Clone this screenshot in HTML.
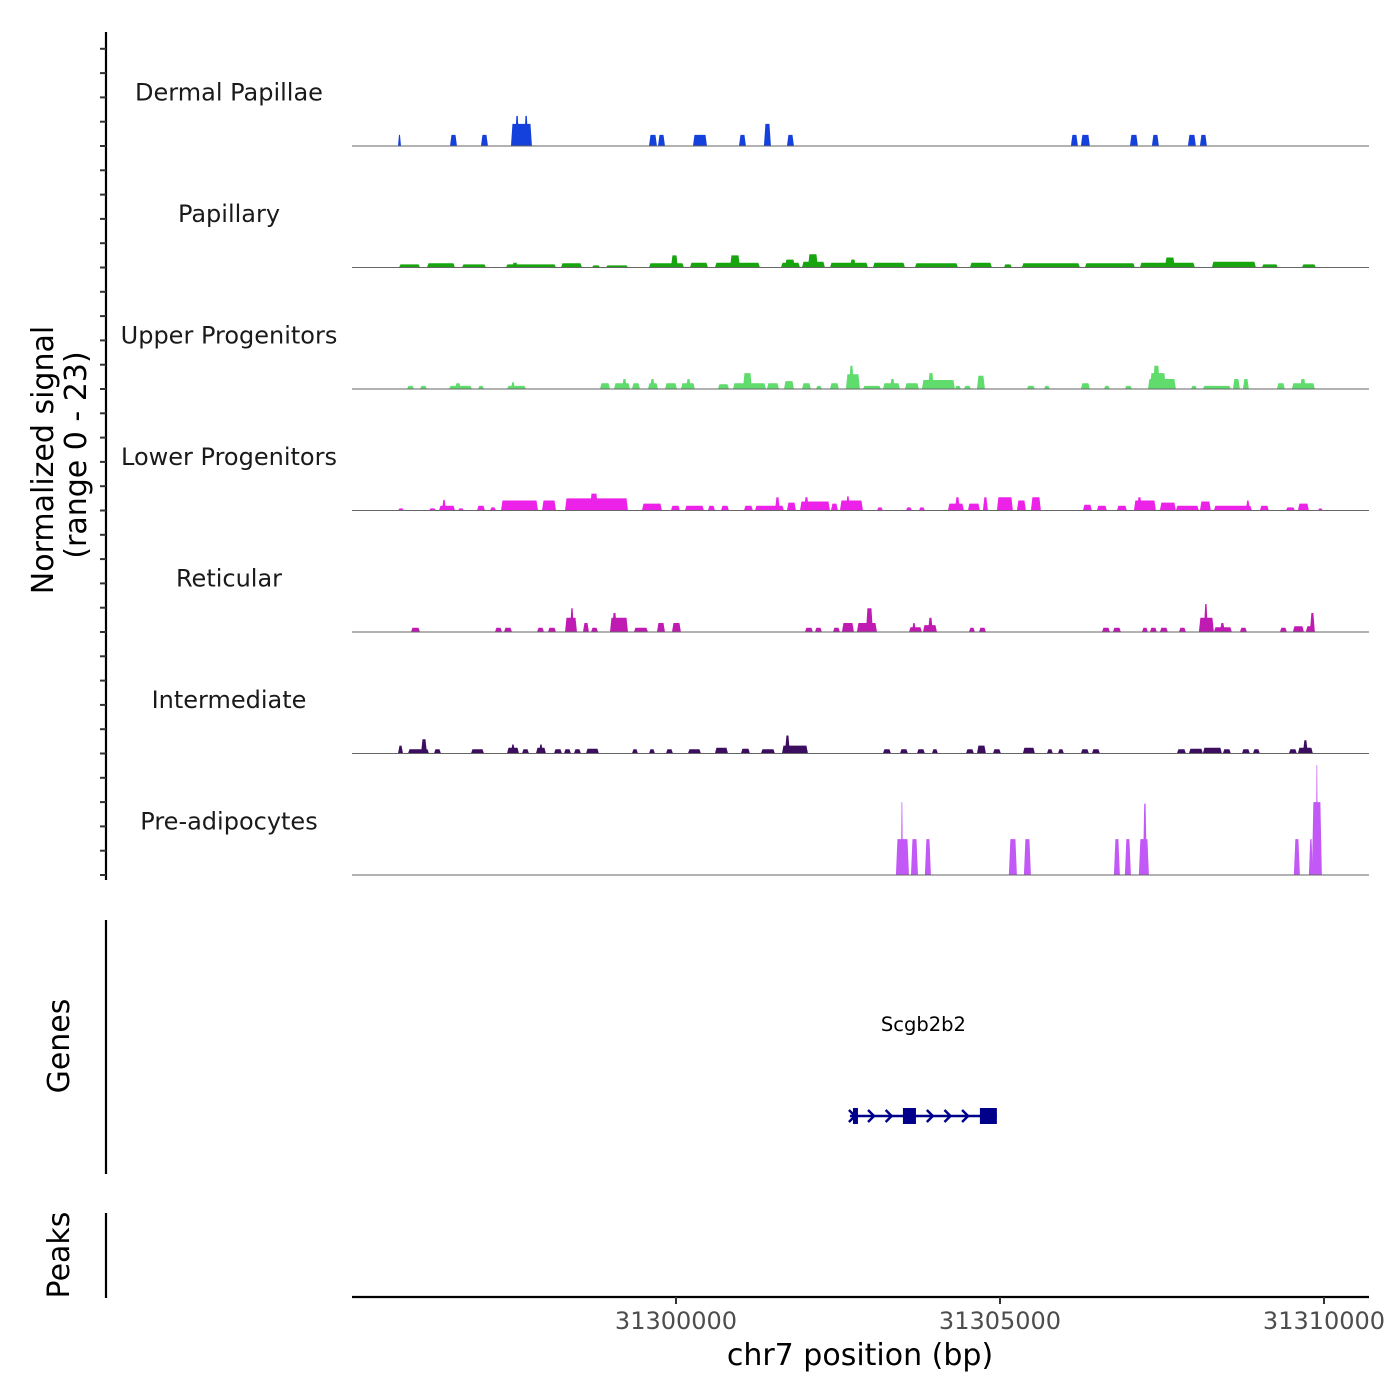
<!DOCTYPE html>
<html><head><meta charset="utf-8"><style>
html,body{margin:0;padding:0;background:#fff}
svg{display:block;font-family:"DejaVu Sans","Liberation Sans",sans-serif}
</style></head><body>
<svg id="chart" width="1400" height="1400" viewBox="0 0 1400 1400" xmlns="http://www.w3.org/2000/svg">
<g id="left"></g>
<g id="tracks"></g>
<g id="genes"></g>
<g id="xaxis"></g>
<text transform="translate(53,460) rotate(-90)" text-anchor="middle" font-size="30" fill="#000">Normalized signal</text>
<text transform="translate(86,455) rotate(-90)" text-anchor="middle" font-size="30" fill="#000">(range 0 - 23)</text>
<text transform="translate(69,1046) rotate(-90)" text-anchor="middle" font-size="30" fill="#000">Genes</text>
<text transform="translate(69,1255) rotate(-90)" text-anchor="middle" font-size="30" fill="#000">Peaks</text>
<line x1="106" y1="920" x2="106" y2="1174" stroke="#000" stroke-width="2.2"/>
<line x1="106" y1="1213" x2="106" y2="1298" stroke="#000" stroke-width="2.2"/>
<text x="860" y="1365" text-anchor="middle" font-size="30" fill="#000">chr7 position (bp)</text>
</svg>
<script>
const NS='http://www.w3.org/2000/svg';
const windowStart=31295000, windowEnd=31310700, signalMax=23;
const xTicks=[31300000,31305000,31310000];
const trackNames=['Dermal Papillae','Papillary','Upper Progenitors','Lower Progenitors','Reticular','Intermediate','Pre-adipocytes'];
const trackColors=['#1440dc','#17a40e','#5fdc6c','#ec22e8','#bf1bb2','#3d0e60','#c258f6'];
// segments: offsets (bp from windowStart), values (normalized signal)
const dpStart=[710,1512,1990,2453,2515,2655,4583,4722,5262,5972,6357,6712,11094,11248,12005,12344,12900,13085];
const dpEnd=[756,1620,2098,2777,2580,2720,4706,4830,5478,6079,6465,6820,11202,11387,12128,12452,13023,13193];
const dpVal=[2.1,2.1,2.1,4.2,5.7,5.7,2.1,2.1,2.1,2.1,4.2,2.1,2.1,2.1,2.1,2.1,2.1,2.1];
const paStart=[725,1157,1697,2376,2469,3225,3703,3919,4583,4922,5215,5601,5833,6620,6681,6944,7036,7376,7684,8039,8687,9536,10060,10338,11310,12159,12545,13270,14041,14659];
const paEnd=[1049,1589,2068,3148,2562,3549,3827,4259,5123,5030,5493,6295,5987,6913,6836,7298,7190,7962,7777,8533,9351,9875,10184,11233,12082,13008,12699,13949,14288,14875];
const paVal=[.6,.8,.6,.6,.9,.8,.4,.4,.8,2.3,.9,.9,2.3,.9,1.5,1.1,2.5,.9,1.5,.9,.8,.9,.6,.8,.8,.9,1.9,1.1,.6,.6];
const upStart=[849,1049,1497,1589,1944,2392,2453,3827,4043,4166,4320,4567,4598,4830,5076,5154,5647,5879,6033,6403,6666,6944,7160,7376,7622,7669,7885,8193,8301,8533,8795,8888,9304,9443,9644,10415,10678,11248,11603,11927,12283,12313,12360,12946,13131,13594,13748,14273,14504,14628];
const upEnd=[957,1157,1852,1682,2037,2685,2515,3981,4290,4243,4444,4722,4675,5015,5292,5231,5817,6388,6172,6589,6820,7082,7252,7514,7838,7746,8162,8456,8379,8749,9304,8980,9397,9551,9767,10539,10770,11387,11696,12036,12714,12560,12467,13039,13563,13702,13841,14396,14859,14720];
const upVal=[.6,.6,.6,1.1,.6,.6,1.3,1.1,1.1,1.9,1.1,1.1,1.9,1.1,1.1,1.9,.9,1.1,3.0,1.1,1.5,1.1,.6,1.1,2.8,4.4,.6,1.1,1.9,1.1,1.7,3.0,.6,.6,2.5,.6,.6,1.1,.6,.6,1.9,3.0,4.4,.6,.6,1.9,1.9,1.1,1.1,1.9];
const lpStart=[710,1188,1342,1389,1636,1929,2129,2299,2932,3287,3672,4475,4922,5138,5493,5694,6049,6218,6527,6712,6913,6975,7391,7530,7622,8101,8548,8749,9196,9304,9505,9736,9952,10261,10477,11280,11495,11804,12066,12113,12467,12714,13085,13301,13794,14010,14412,14597,14905];
const lpEnd=[802,1296,1589,1450,1728,2052,2222,2870,3148,4259,3796,4783,5061,5431,5601,5817,6187,6666,6604,6851,7376,7051,7499,7885,7684,8193,8641,8841,9443,9382,9690,9813,10199,10400,10631,11418,11650,11958,12406,12190,12714,13069,13254,13887,13856,14149,14550,14767,14982];
const lpVal=[.4,.4,.9,2.0,.4,.9,.6,1.9,1.9,2.3,3.2,1.3,.9,.9,.9,.9,.9,.9,2.5,1.5,1.7,2.5,1.3,1.9,2.7,.6,.6,.6,1.3,2.5,1.3,2.5,2.5,1.9,2.5,1.1,.9,.9,1.9,2.5,1.5,.9,1.7,.9,1.9,.9,.6,1.3,.4];
const reStart=[910,2206,2345,2855,3024,3287,3364,3564,3688,3981,4012,4351,4706,4938,6990,7144,7422,7561,7792,7931,8595,8641,8811,8888,9520,9675,11573,11742,12190,12313,12467,12761,13069,13146,13301,13393,13702,14319,14520,14720,14782];
const reEnd=[1049,2315,2469,2963,3148,3472,3425,3657,3796,4259,4089,4567,4830,5076,7113,7252,7530,7746,8101,8039,8795,8703,9027,8965,9613,9783,11696,11866,12283,12421,12591,12869,13301,13208,13578,13470,13810,14427,14690,14859,14859];
const reVal=[.8,.8,.8,.8,.8,2.7,4.5,1.7,.8,2.7,3.6,.8,1.7,1.7,.8,.8,.8,1.7,1.7,4.5,.9,1.7,1.3,2.7,.8,.8,.8,.8,.8,.8,.8,.8,2.7,5.3,.9,1.7,.8,.8,1.1,1.1,3.6];
const inStart=[710,864,1065,1265,1836,2392,2453,2623,2839,2885,3117,3271,3425,3611,4320,4583,4845,5184,5601,6002,6311,6635,6681,8193,8456,8718,8949,9474,9644,9891,10353,10724,10894,11248,11418,12730,12915,13131,13439,13733,13903,14458,14597,14674];
const inEnd=[787,1188,1157,1373,2037,2577,2515,2731,2993,2947,3240,3379,3533,3811,4413,4675,4953,5385,5802,6141,6527,7036,6758,8317,8579,8841,9042,9597,9783,10014,10539,10816,10986,11372,11542,12869,13131,13424,13563,13856,14010,14581,14828,14751];
const inVal=[1.5,.8,2.7,.8,.8,1.1,1.7,.8,1.1,1.7,.8,.8,.8,.9,.8,.8,.8,.8,1.1,.9,.8,1.5,3.4,.8,.8,.8,.8,.8,1.5,.8,1.1,.8,.8,.8,.8,.8,.9,1.1,.8,.8,.8,.8,1.1,2.5];
const prStart=[8394,8471,8626,8841,10137,10369,11758,11927,12143,12205,14535,14767,14813,14875];
const prEnd=[8595,8502,8734,8934,10261,10477,11850,12020,12298,12267,14628,14828,14967,14905];
const prVal=[6.8,13.8,6.8,6.8,6.8,6.8,6.8,6.8,6.8,13.5,6.8,6.8,13.8,20.8];
const geneName='Scgb2b2';
const geneStart=7684, geneEnd=9952;
const exonStart=[7731,8502,9690];
const exonEnd=[7808,8703,9952];
const allStarts=[dpStart,paStart,upStart,lpStart,reStart,inStart,prStart];
const allEnds=[dpEnd,paEnd,upEnd,lpEnd,reEnd,inEnd,prEnd];
const allVals=[dpVal,paVal,upVal,lpVal,reVal,inVal,prVal];

const plotL=352, plotR=1369, x0px=352, pxPerBp=324/5000;
function xs(bp){return x0px+(bp-windowStart)*pxPerBp;}
const trackTop=24.5, trackH=121.5;
function base(i){return trackTop+(i+1)*trackH;}
function ys(i,v){return base(i)-v/signalMax*trackH;}
function mk(tag,attrs,parent){const e=document.createElementNS(NS,tag);for(const k in attrs)e.setAttribute(k,attrs[k]);parent.appendChild(e);return e;}

const left=document.getElementById('left');
const ax=mk('line',{x1:106,y1:32,x2:106,y2:880,stroke:'#000','stroke-width':2.2},left);


for(let i=0;i<7;i++){for(let k=0;k<5;k++){const y=base(i)-k*trackH/5;
 const t=mk('line',{x1:100,y1:y,x2:106,y2:y,stroke:'#333','stroke-width':2},left);
 
 }}

const tracks=document.getElementById('tracks');
for(let i=0;i<7;i++){
 const g=mk('g',{},tracks);
 
 
 const lab=mk('text',{x:229,y:ys(i,0)-trackH+76,'text-anchor':'middle','font-size':24,fill:'#1a1a1a'},g);
 lab.textContent=trackNames[i];
 
 
 const S=allStarts[i],E=allEnds[i],V=allVals[i];
 for(let j=0;j<S.length;j++){
  const a=xs(windowStart+S[j]),b=xs(windowStart+E[j]);
  const r=Math.min(1.5,(b-a)/3);
  const yb=base(i),yt=ys(i,V[j]);
  const p=mk('polygon',{points:`${a},${yb} ${a+r},${yt} ${b-r},${yt} ${b},${yb}`,fill:trackColors[i]},g);
  
  
 }
 const bl=mk('line',{x1:plotL,y1:base(i),x2:plotR,y2:base(i),stroke:'#666','stroke-width':1},g);
 
 
}

const genes=document.getElementById('genes');
const gy=1116;
const gl=mk('text',{x:(xs(windowStart+geneStart)+xs(windowStart+geneEnd))/2,y:1031,'text-anchor':'middle','font-size':19.5,fill:'#000'},genes);
gl.textContent=geneName;


const gline=mk('line',{x1:xs(windowStart+geneStart),y1:gy,x2:xs(windowStart+geneEnd),y2:gy,stroke:'#00008b','stroke-width':2.5},genes);


for(let j=0;j<exonStart.length;j++){
 const a=xs(windowStart+exonStart[j]),b=xs(windowStart+exonEnd[j]);
 const ex=mk('rect',{x:a,y:gy-8,width:b-a,height:16,fill:'#00008b'},genes);
 
 
}
const gA=xs(windowStart+geneStart),gB=xs(windowStart+geneEnd);
const arrowFrac=[0.0,0.13,0.25,0.53,0.65,0.77];
arrowFrac.forEach(f=>{const x=gA+f*(gB-gA)+3;
 const ar=mk('polyline',{points:`${x-4},${gy-6} ${x+2},${gy} ${x-4},${gy+6}`,fill:'none',stroke:'#00008b','stroke-width':2.5},genes);
 
 });

const xa=document.getElementById('xaxis');
const xl=mk('line',{x1:plotL,y1:1297,x2:plotR,y2:1297,stroke:'#000','stroke-width':2.2},xa);


xTicks.forEach(t=>{const x=xs(t);
 const tk=mk('line',{x1:x,y1:1297,x2:x,y2:1304,stroke:'#333','stroke-width':2},xa);
 
 
 const tl=mk('text',{x:x,y:1329,'text-anchor':'middle','font-size':24,fill:'#4d4d4d'},xa);
 tl.textContent=t;
 
 });
</script>
</body></html>
